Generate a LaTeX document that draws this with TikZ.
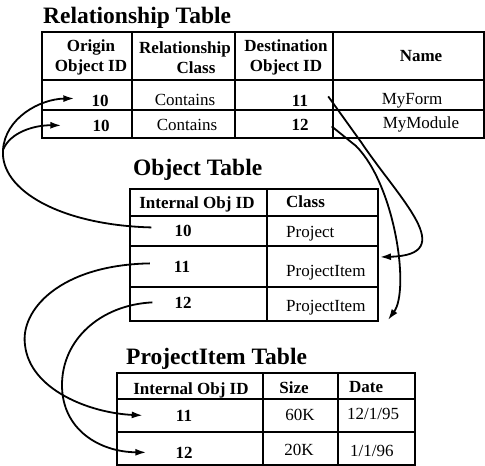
\documentclass[tikz,border=0pt]{standalone}
\usepackage{fontspec}
\setmainfont{Liberation Serif}
\usetikzlibrary{calc,arrows.meta}
\tikzset{
	tbox/.style={line width=2.6pt},
	tline/.style={line width=1.1pt},
	bcell/.style={inner sep=0pt, anchor=base, font=\fontsize{17}{20}\selectfont},
	lcell/.style={bcell, anchor=base west},
	ncell/.style={bcell, font=\fontsize{17}{20}\selectfont\bfseries},
	hcell/.style={inner sep=0pt, align=center, font=\fontsize{17}{20}\selectfont\bfseries},
	ttl/.style={inner sep=0pt, anchor=base west, font=\fontsize{23.5}{26}\selectfont\bfseries},
	link/.style={line width=1.8pt},
	linkto/.style={link, -{Latex[length=11pt,width=7pt]}}
}

\begin{document}
\begin{tikzpicture}[x=1pt,y=-1pt]
		%%%%% START %%%%%
		\useasboundingbox (0,0) rectangle (485,466);
		
		% relationship table
		\node[ttl] (relTitle) at (43,23) {Relationship Table};
		\draw[tbox] (42,32) rectangle (484,138);
		\draw[tline] (42,80) -- (484,80);
		\draw[tline] (42,110) -- (484,110);
		\draw[tline] (132,32) -- (132,138);
		\draw[tline] (235,32) -- (235,138);
		\draw[tline] (333,32) -- (333,138);
		
		\node[hcell] (rhOrig) at (91,57) {Origin\\Object ID};
		\node[hcell] (rhCls) at (185,58) {Relationship\\\hspace*{1.3em}Class};
		\node[hcell] (rhDest) at (286,57) {Destination\\Object ID};
		\node[hcell, anchor=base] (rhName) at (421,61) {Name};
		
		\node[ncell] (rOrig1) at (100,106) {10};
		\node[bcell] (rCls1) at (185,105) {Contains};
		\node[ncell] (rDest1) at (300,106) {11};
		\node[bcell] (rName1) at (412,104) {MyForm};
		\node[ncell] (rOrig2) at (101,131) {10};
		\node[bcell] (rCls2) at (187,130) {Contains};
		\node[ncell] (rDest2) at (300,130) {12};
		\node[bcell] (rName2) at (421,128) {MyModule};
		
		% object table
		\node[ttl] (objTitle) at (133,175) {Object Table};
		\draw[tbox] (130,189) rectangle (378,321);
		\draw[tline] (130,216) -- (378,216);
		\draw[tline] (130,246) -- (378,246);
		\draw[tline] (130,287) -- (378,287);
		\draw[tline] (267,189) -- (267,321);
		
		\node[hcell, anchor=base] (ohId) at (197,208) {Internal Obj ID};
		\node[hcell, anchor=base west] (ohCls) at (286,207) {Class};
		\node[ncell] (oId10) at (183,236) {10};
		\node[lcell] (oCls10) at (286,237) {Project};
		\node[ncell] (oId11) at (182,272) {11};
		\node[lcell] (oCls11) at (286,276) {ProjectItem};
		\node[ncell] (oId12) at (183,308) {12};
		\node[lcell] (oCls12) at (286,311) {ProjectItem};
		\coordinate (objIn11) at (380,257);
		\coordinate (objIn12) at (388,320);
		
		% projectitem table
		\node[ttl] (piTitle) at (126,364) {ProjectItem Table};
		\draw[tbox] (117,373) rectangle (415,465);
		\draw[tline] (117,399) -- (415,399);
		\draw[tline] (117,432) -- (415,432);
		\draw[tline] (263,373) -- (263,465);
		\draw[tline] (338,373) -- (338,465);
		
		\node[hcell, anchor=base] (phId) at (191,394) {Internal Obj ID};
		\node[hcell, anchor=base] (phSize) at (294,393) {Size};
		\node[hcell, anchor=base west] (phDate) at (349,392) {Date};
		\node[ncell] (pId11) at (184,421) {11};
		\node[bcell] (pSize11) at (300,420) {60K};
		\node[lcell] (pDate11) at (347,419) {12/1/95};
		\node[ncell] (pId12) at (184,458) {12};
		\node[bcell] (pSize12) at (299,455) {20K};
		\node[lcell] (pDate12) at (350,456) {1/1/96};
		
		% links: object 10 -> origin ids
		\draw[link] ($(oId10.west)+(-23,-3)$) .. controls (60,225) and (0,190) .. (3,150) coordinate (fork);
		\draw[linkto] (fork) .. controls (5,118) and (40,99) .. ($(rOrig1.west)+(-17,-2)$);
		\draw[linkto] (fork) .. controls (10,132) and (35,125) .. ($(rOrig2.west)+(-31,0)$);
		
		% links: destination ids -> object rows
		\draw[linkto] ($(rDest1.east)+(20,-4)$) -- (361,142) .. controls (400,200) and (460,255) .. (objIn11);
		\draw[linkto] ($(rDest2.east)+(23,2)$) -- (356,146) .. controls (395,185) and (410,290) .. (objIn12);
		
		% links: object rows -> projectitem rows
		\draw[linkto] ($(oId11.west)+(-24,-3)$) .. controls (60,265) and (20,310) .. (25,345) .. controls (30,390) and (90,413) .. ($(pId11.west)+(-33,0)$);
		\draw[linkto] ($(oId12.west)+(-22,0)$) .. controls (100,305) and (62,340) .. (62,385) .. controls (62,430) and (100,452) .. ($(pId12.west)+(-29,0)$);
		
		%%%%% END %%%%%
\end{tikzpicture}
\end{document}
